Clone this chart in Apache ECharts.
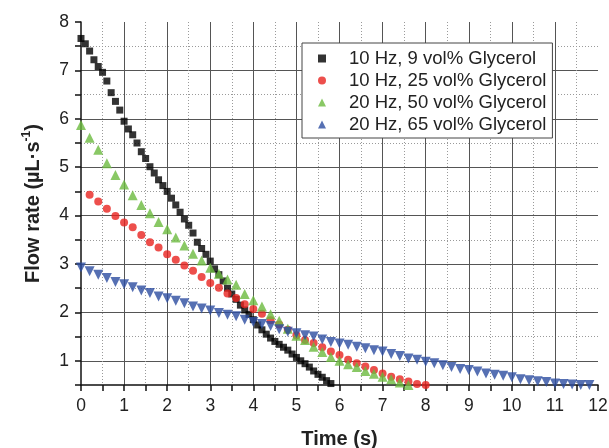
<!DOCTYPE html>
<html>
<head>
<meta charset="utf-8">
<script src="https://cdn.jsdelivr.net/npm/echarts@6/dist/echarts.min.js"></script>
<style>
  html, body { margin: 0; padding: 0; background: #fff; }
  #chart { width: 609px; height: 448px; }
</style>
</head>
<body>
<div id="chart"></div>
<script>
// series names (legend)
const seriesNames = [
  "10 Hz, 9 vol% Glycerol",
  "10 Hz, 25 vol% Glycerol",
  "20 Hz, 50 vol% Glycerol",
  "20 Hz, 65 vol% Glycerol"
];

// sampling: first time (s) and step (s) of each series
const timeStart = [0, 0.2, 0, 0];
const timeStep = [0.1, 0.2, 0.2, 0.2];

// flow rate (uL/s)
const flow9 = [
  7.66, 7.55, 7.40, 7.22, 7.08, 6.96, 6.78, 6.54, 6.36, 6.18,
  5.95, 5.79, 5.67, 5.50, 5.32, 5.18, 5.01, 4.88, 4.74, 4.62,
  4.50, 4.36, 4.22, 4.07, 3.93, 3.80, 3.64, 3.45, 3.32, 3.20,
  3.06, 2.90, 2.78, 2.65, 2.50, 2.38, 2.27, 2.15, 2.05, 1.96,
  1.85, 1.74, 1.64, 1.55, 1.47, 1.40, 1.34, 1.28, 1.22, 1.14,
  1.07, 1.00, 0.94, 0.87, 0.79, 0.72, 0.66, 0.59, 0.53
];
const flow25 = [
  4.43, 4.29, 4.14, 3.99, 3.86, 3.76, 3.60, 3.45, 3.34, 3.20,
  3.09, 2.97, 2.86, 2.73, 2.61, 2.51, 2.39, 2.30, 2.17, 2.07,
  1.97, 1.84, 1.75, 1.64, 1.53, 1.43, 1.37, 1.28, 1.19, 1.12,
  1.02, 0.95, 0.88, 0.81, 0.74, 0.67, 0.62, 0.57, 0.52, 0.50
];
const flow50 = [
  5.87, 5.61, 5.36, 5.08, 4.84, 4.64, 4.42, 4.22, 4.05, 3.87,
  3.72, 3.55, 3.38, 3.21, 3.07, 2.92, 2.80, 2.68, 2.57, 2.38,
  2.25, 2.12, 1.96, 1.83, 1.66, 1.52, 1.43, 1.29, 1.18, 1.08,
  1.00, 0.93, 0.87, 0.79, 0.73, 0.67, 0.62, 0.55, 0.50
];
const flow65 = [
  2.93, 2.85, 2.78, 2.71, 2.63, 2.58, 2.52, 2.45, 2.40, 2.33,
  2.29, 2.24, 2.19, 2.12, 2.08, 2.04, 1.99, 1.95, 1.92, 1.85,
  1.80, 1.76, 1.72, 1.65, 1.60, 1.57, 1.53, 1.50, 1.44, 1.39,
  1.36, 1.33, 1.29, 1.26, 1.22, 1.19, 1.14, 1.10, 1.05, 1.02,
  0.98, 0.95, 0.91, 0.87, 0.83, 0.81, 0.78, 0.74, 0.71, 0.69,
  0.66, 0.62, 0.60, 0.58, 0.56, 0.53, 0.52, 0.51, 0.50, 0.50
];
const flowData = [flow9, flow25, flow50, flow65];

const colors = ["#000000", "#e8231f", "#6cba3f", "#2c4ca0"];
const symbols = ["rect", "circle", "triangle", "triangle"];
const symbolSizes = [7, 8, 10, 10];
const symbolRotates = [0, 0, 0, 180];

const fontName = "Liberation Sans";
const intLabel = (v) => (Number.isInteger(v) ? String(v) : "");

const chart = echarts.init(document.getElementById("chart"));

const series = flowData.map((vals, k) => ({
  name: seriesNames[k],
  type: "scatter",
  xAxisIndex: 0,
  yAxisIndex: 0,
  symbol: symbols[k],
  symbolSize: symbolSizes[k],
  symbolRotate: symbolRotates[k],
  itemStyle: { color: colors[k] },
  data: vals.map((v, i) => [+(timeStart[k] + i * timeStep[k]).toFixed(2), v]),
  z: 3 + k
}));

// split line colours cycle over drawn lines only (min/max lines skipped)
const option = {
  animation: false,
  grid: { left: 81, top: 22, width: 517, height: 363, containLabel: false, outerBoundsMode: "none" },
  legend: {
    orient: "vertical",
    left: 302,
    top: 43,
    padding: [6, 6, 4, 16],
    itemWidth: 8,
    itemHeight: 8,
    itemGap: 3,
    backgroundColor: "#fff",
    borderColor: "#444",
    borderWidth: 1,
    textStyle: { fontFamily: fontName, fontSize: 18.5, color: "#222", padding: [0, 0, 0, 18] },
    data: seriesNames
  },
  xAxis: [
    {
      type: "value",
      min: 0,
      max: 12,
      interval: 0.5,
      name: "Time (s)",
      nameLocation: "middle",
      nameGap: 44,
      nameTextStyle: { fontFamily: fontName, fontSize: 20, fontWeight: "bold", color: "#222" },
      axisLine: { show: true, lineStyle: { color: "#111", width: 1.5 } },
      axisTick: { show: true, length: 6, lineStyle: { color: "#111", width: 1.5 } },
      axisLabel: { formatter: intLabel, fontFamily: fontName, fontSize: 17.5, color: "#222", margin: 12 },
      splitLine: {
        show: true,
        showMinLine: false,
        showMaxLine: false,
        lineStyle: { color: ["transparent", "#555"], width: 1 }
      }
    },
    {
      type: "value",
      min: 0,
      max: 12,
      interval: 0.5,
      position: "bottom",
      axisLine: { show: false },
      axisTick: { show: false },
      axisLabel: { show: false },
      splitLine: {
        show: true,
        showMinLine: false,
        showMaxLine: false,
        lineStyle: { color: ["#9a9a9a", "transparent"], width: 1, type: [1, 2] }
      },
      z: 0
    }
  ],
  yAxis: [
    {
      type: "value",
      min: 0.5,
      max: 8,
      interval: 0.5,
      name: "{a|Flow rate (µL·s}{sup|-1}{a|)}",
      nameLocation: "middle",
      nameGap: 36,
      nameRotate: 90,
      nameTextStyle: {
        rich: {
          a: { fontFamily: fontName, fontSize: 20, fontWeight: "bold", color: "#222", lineHeight: 24 },
          sup: { fontFamily: fontName, fontSize: 12, fontWeight: "bold", color: "#222", verticalAlign: "top", lineHeight: 24 }
        }
      },
      axisLine: { show: true, lineStyle: { color: "#111", width: 1.5 } },
      axisTick: { show: true, length: 6, lineStyle: { color: "#111", width: 1.5 } },
      axisLabel: { formatter: intLabel, fontFamily: fontName, fontSize: 17.5, color: "#222", margin: 12 },
      splitLine: {
        show: true,
        showMinLine: false,
        showMaxLine: false,
        lineStyle: { color: ["#555", "transparent"], width: 1 }
      }
    },
    {
      type: "value",
      min: 0.5,
      max: 8,
      interval: 0.5,
      position: "left",
      axisLine: { show: false },
      axisTick: { show: false },
      axisLabel: { show: false },
      splitLine: {
        show: true,
        showMinLine: false,
        showMaxLine: false,
        lineStyle: { color: ["transparent", "#9a9a9a"], width: 1, type: [1, 2] }
      },
      z: 0
    }
  ],
  series: series
};

chart.setOption(option);
</script>
</body>
</html>
